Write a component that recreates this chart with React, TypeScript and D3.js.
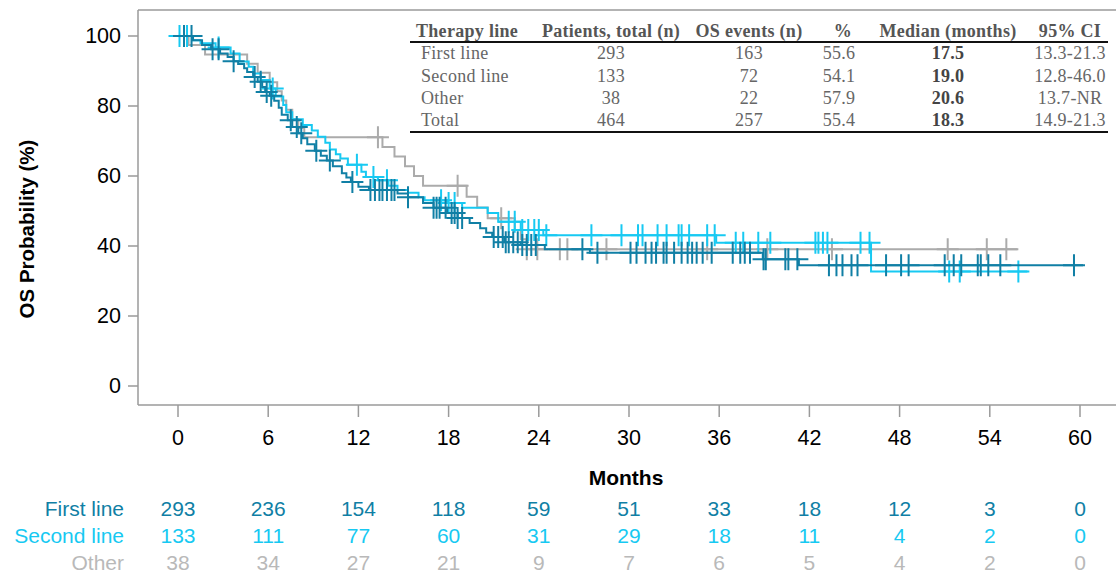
import React from "react";
import * as d3 from "d3";

type Step = [number, number];

// Axis ticks
const monthTicks = [0, 6, 12, 18, 24, 30, 36, 42, 48, 54, 60];
const probTicks = [0, 20, 40, 60, 80, 100];

// Kaplan–Meier steps [month, survival %] and censoring times per therapy line
const firstLineSteps: Step[] = [
  [0, 100], [1.0, 98.8], [1.6, 97.4], [2.2, 96.2], [2.8, 95.0], [3.3, 94.0], [3.7, 92.8],
  [4.0, 92.0], [4.4, 90.8], [4.6, 89.7], [5.0, 88.3], [5.3, 86.9], [5.6, 85.4], [5.8, 84.0],
  [6.1, 82.9], [6.4, 81.5], [6.7, 79.5], [6.9, 77.5], [7.3, 75.9], [7.6, 74.0], [8.0, 72.2],
  [8.3, 70.8], [8.6, 69.1], [9.1, 67.2], [9.5, 65.8], [9.9, 64.4], [10.3, 62.8], [10.9, 60.8],
  [11.2, 59.6], [11.5, 58.3], [12.0, 56.9], [12.7, 56.0], [14.6, 55.0], [15.3, 53.9],
  [16.3, 52.3], [17.0, 50.9], [17.9, 49.4], [18.6, 48.0], [19.4, 46.6], [20.1, 45.1],
  [20.5, 43.8], [20.9, 42.6], [21.7, 41.1], [22.8, 40.3], [24.4, 39.1], [27.4, 38.1],
  [38.9, 36.2], [41.3, 34.5],
];
const firstLineCensored = [
  0.4, 0.9, 2.3, 2.7, 3.7, 5.1, 5.5, 5.9, 6.2, 7.5, 7.9, 8.2, 9.2, 10.1, 11.6, 12.8, 13.1,
  13.4, 13.6, 13.9, 14.2, 14.4, 15.3, 17.0, 17.2, 17.4, 17.8, 18.2, 18.4, 18.6, 18.9, 21.0,
  21.3, 21.6, 21.8, 22.0, 22.3, 22.6, 22.9, 23.2, 23.5, 23.8, 26.9, 27.9, 30.1, 30.5, 31.1,
  31.5, 31.8, 32.3, 32.5, 33.0, 33.5, 33.9, 34.2, 34.5, 34.9, 35.5, 36.9, 37.4, 37.7, 38.05,
  38.95, 39.1, 40.4, 40.6, 41.2, 43.3, 43.8, 44.2, 44.8, 45.2, 47.1, 48.1, 48.6, 51.0, 51.6,
  52.1, 53.2, 53.4, 53.9, 54.7, 59.6,
];
const firstLineEnd = 60.2;

const secondLineSteps: Step[] = [
  [0, 100], [1.0, 98.8], [1.5, 97.9], [2.5, 96.7], [3.5, 95.0], [4.1, 92.7], [4.7, 91.2],
  [5.0, 89.3], [5.5, 87.4], [6.1, 85.0], [6.5, 82.7], [7.0, 80.3], [7.2, 78.2], [7.6, 76.2],
  [8.3, 74.6], [8.9, 73.0], [9.3, 71.2], [9.8, 69.5], [10.1, 67.6], [10.5, 66.2], [10.8, 65.0],
  [11.3, 63.2], [12.2, 61.2], [12.5, 59.7], [13.3, 58.8], [14.0, 57.2], [14.6, 56.0],
  [15.3, 55.2], [16.0, 53.9], [16.4, 53.1], [17.9, 52.3], [18.9, 50.9], [20.6, 49.4],
  [21.3, 46.9], [22.8, 44.6], [24.3, 43.1], [35.8, 40.9], [46.1, 32.7],
];
const secondLineCensored = [
  0.1, 0.6, 2.7, 6.3, 11.9, 13.0, 13.9, 17.5, 18.0, 18.4, 22.0, 22.4, 22.9, 23.3, 23.7, 24.0,
  24.5, 27.5, 29.5, 30.6, 30.9, 31.9, 32.5, 33.3, 33.5, 34.0, 35.2, 35.7, 37.1, 37.6, 38.6,
  39.4, 42.4, 42.6, 42.9, 43.2, 45.4, 46.0, 51.3, 52.0, 55.9,
];
const secondLineEnd = 56.5;

const otherSteps: Step[] = [
  [0, 100], [0.7, 97.4], [1.8, 94.7], [4.6, 92.1], [5.3, 89.5], [6.1, 86.8], [6.6, 84.2],
  [6.9, 81.6], [7.2, 78.9], [7.6, 76.3], [8.0, 73.7], [8.4, 71.1], [13.6, 68.3], [14.4, 65.6],
  [15.1, 62.8], [15.7, 60.0], [16.3, 57.2], [19.2, 54.1], [19.9, 51.0], [20.6, 47.9],
  [22.4, 44.6], [22.8, 41.9], [23.2, 39.1],
];
const otherCensored = [
  13.3, 18.6, 21.5, 23.2, 23.9, 25.4, 25.9, 28.5, 35.2, 39.2, 43.5, 51.2, 53.8, 55.1,
];
const otherEnd = 55.9;

// Numbers at risk
const riskLabels = ["First line", "Second line", "Other"];
const riskFirst = [293, 236, 154, 118, 59, 51, 33, 18, 12, 3, 0];
const riskSecond = [133, 111, 77, 60, 31, 29, 18, 11, 4, 2, 0];
const riskOther = [38, 34, 27, 21, 9, 7, 6, 5, 4, 2, 0];

// Summary table
const tableHeaders = ["Therapy line", "Patients, total (n)", "OS events (n)", "%", "Median (months)", "95% CI"];
const tableLines = ["First line", "Second line", "Other", "Total"];
const tablePatients = ["293", "133", "38", "464"];
const tableEvents = ["163", "72", "22", "257"];
const tablePercent = ["55.6", "54.1", "57.9", "55.4"];
const tableMedian = ["17.5", "19.0", "20.6", "18.3"];
const tableCI = ["13.3-21.3", "12.8-46.0", "13.7-NR", "14.9-21.3"];

const COLORS = { first: "#107fa5", second: "#17c9f2", other: "#ababab" };
const SANS = "Liberation Sans, Arial, sans-serif";
const SERIF = "Liberation Serif, Times New Roman, serif";

const x = d3.scaleLinear().domain([0, 60]).range([178, 1080]);
const y = d3.scaleLinear().domain([0, 100]).range([386, 36]);

function survivalAt(steps: Step[], t: number): number {
  let s = steps[0][1];
  for (const [ti, si] of steps) {
    if (ti <= t) s = si;
    else break;
  }
  return s;
}

function stepPath(steps: Step[], end: number): string {
  const pts: Step[] = [...steps, [end, steps[steps.length - 1][1]]];
  return (
    d3
      .line<Step>()
      .x((d) => x(d[0]))
      .y((d) => y(d[1]))
      .curve(d3.curveStepAfter)(pts) || ""
  );
}

function censorPath(steps: Step[], times: number[]): string {
  const r = 11;
  return times
    .map((t) => {
      const cx = x(t);
      const cy = y(survivalAt(steps, t));
      return `M${cx - r},${cy}H${cx + r}M${cx},${cy - r}V${cy + r}`;
    })
    .join("");
}

const groups = [
  { key: "other", steps: otherSteps, censored: otherCensored, end: otherEnd, color: COLORS.other },
  { key: "second", steps: secondLineSteps, censored: secondLineCensored, end: secondLineEnd, color: COLORS.second },
  { key: "first", steps: firstLineSteps, censored: firstLineCensored, end: firstLineEnd, color: COLORS.first },
];

const riskRows = [
  { label: riskLabels[0], values: riskFirst, color: COLORS.first, cy: 508 },
  { label: riskLabels[1], values: riskSecond, color: COLORS.second, cy: 535 },
  { label: riskLabels[2], values: riskOther, color: "#b9b9b9", cy: 562 },
];

function SummaryTable() {
  const colX = [416, 611, 749, 843, 948, 1070];
  const rowY = [55, 78, 100, 122];
  const txt = { fontFamily: SERIF, fontSize: 18, letterSpacing: 0.3 } as const;
  return (
    <g>
      {tableHeaders.map((h, i) => (
        <text
          key={h}
          x={colX[i]}
          y={33}
          textAnchor={i === 0 ? "start" : "middle"}
          dominantBaseline="middle"
          fill="#555"
          fontWeight="bold"
          {...txt}
        >
          {h}
        </text>
      ))}
      <line x1={410} x2={1108} y1={42} y2={42} stroke="#111" strokeWidth={2} />
      {tableLines.map((name, r) => {
        const cells = [tablePatients[r], tableEvents[r], tablePercent[r], tableMedian[r], tableCI[r]];
        return (
          <g key={name}>
            <text x={421} y={rowY[r]} dominantBaseline="middle" fill="#666" {...txt}>
              {name}
            </text>
            {cells.map((c, i) => (
              <text
                key={i}
                x={i === 2 ? 839 : colX[i + 1]}
                y={rowY[r]}
                textAnchor="middle"
                dominantBaseline="middle"
                fill={i === 3 ? "#444" : "#666"}
                fontWeight={i === 3 ? "bold" : "normal"}
                {...txt}
              >
                {c}
              </text>
            ))}
          </g>
        );
      })}
      <line x1={410} x2={1108} y1={132} y2={132} stroke="#111" strokeWidth={2} />
    </g>
  );
}

export default function App() {
  const axisColor = "#9a9a9a";
  const left = 138;
  const bottom = 405;
  return (
    <svg
      width={1116}
      height={575}
      viewBox="0 0 1116 575"
      style={{ position: "absolute", left: 0, top: 0, background: "#fff" }}
    >
      {/* frame */}
      <line x1={left} x2={1116} y1={10} y2={10} stroke={axisColor} strokeWidth={1.5} />
      <line x1={left} x2={left} y1={10} y2={bottom} stroke={axisColor} strokeWidth={1.5} />
      <line x1={left} x2={1116} y1={bottom} y2={bottom} stroke={axisColor} strokeWidth={1.5} />

      {/* y axis */}
      {probTicks.map((t) => (
        <g key={t}>
          <line x1={left - 10} x2={left} y1={y(t)} y2={y(t)} stroke={axisColor} strokeWidth={1.5} />
          <text
            x={left - 17}
            y={y(t)}
            textAnchor="end"
            dominantBaseline="central"
            fontFamily={SANS}
            fontSize={21.5}
            fill="#000"
          >
            {t}
          </text>
        </g>
      ))}
      <text
        transform="translate(26,229) rotate(-90)"
        textAnchor="middle"
        dominantBaseline="central"
        fontFamily={SANS}
        fontSize={20.5}
        fontWeight="bold"
        fill="#000"
      >
        OS Probability (%)
      </text>

      {/* x axis */}
      {monthTicks.map((t) => (
        <g key={t}>
          <line x1={x(t)} x2={x(t)} y1={bottom} y2={bottom + 12} stroke={axisColor} strokeWidth={1.5} />
          <text
            x={x(t)}
            y={438}
            textAnchor="middle"
            dominantBaseline="central"
            fontFamily={SANS}
            fontSize={21.5}
            fill="#000"
          >
            {t}
          </text>
        </g>
      ))}
      <text
        x={626}
        y={477}
        textAnchor="middle"
        dominantBaseline="central"
        fontFamily={SANS}
        fontSize={21}
        fontWeight="bold"
        fill="#000"
      >
        Months
      </text>

      {/* survival curves */}
      {groups.map((g) => (
        <g key={g.key}>
          <path d={stepPath(g.steps, g.end)} fill="none" stroke={g.color} strokeWidth={2} />
          <path d={censorPath(g.steps, g.censored)} fill="none" stroke={g.color} strokeWidth={2} />
        </g>
      ))}

      <SummaryTable />

      {/* numbers at risk */}
      {riskRows.map((row) => (
        <g key={row.label} fill={row.color} fontFamily={SANS} fontSize={21}>
          <text x={124} y={row.cy} textAnchor="end" dominantBaseline="central">
            {row.label}
          </text>
          {row.values.map((v, i) => (
            <text key={i} x={x(monthTicks[i])} y={row.cy} textAnchor="middle" dominantBaseline="central">
              {v}
            </text>
          ))}
        </g>
      ))}
    </svg>
  );
}
